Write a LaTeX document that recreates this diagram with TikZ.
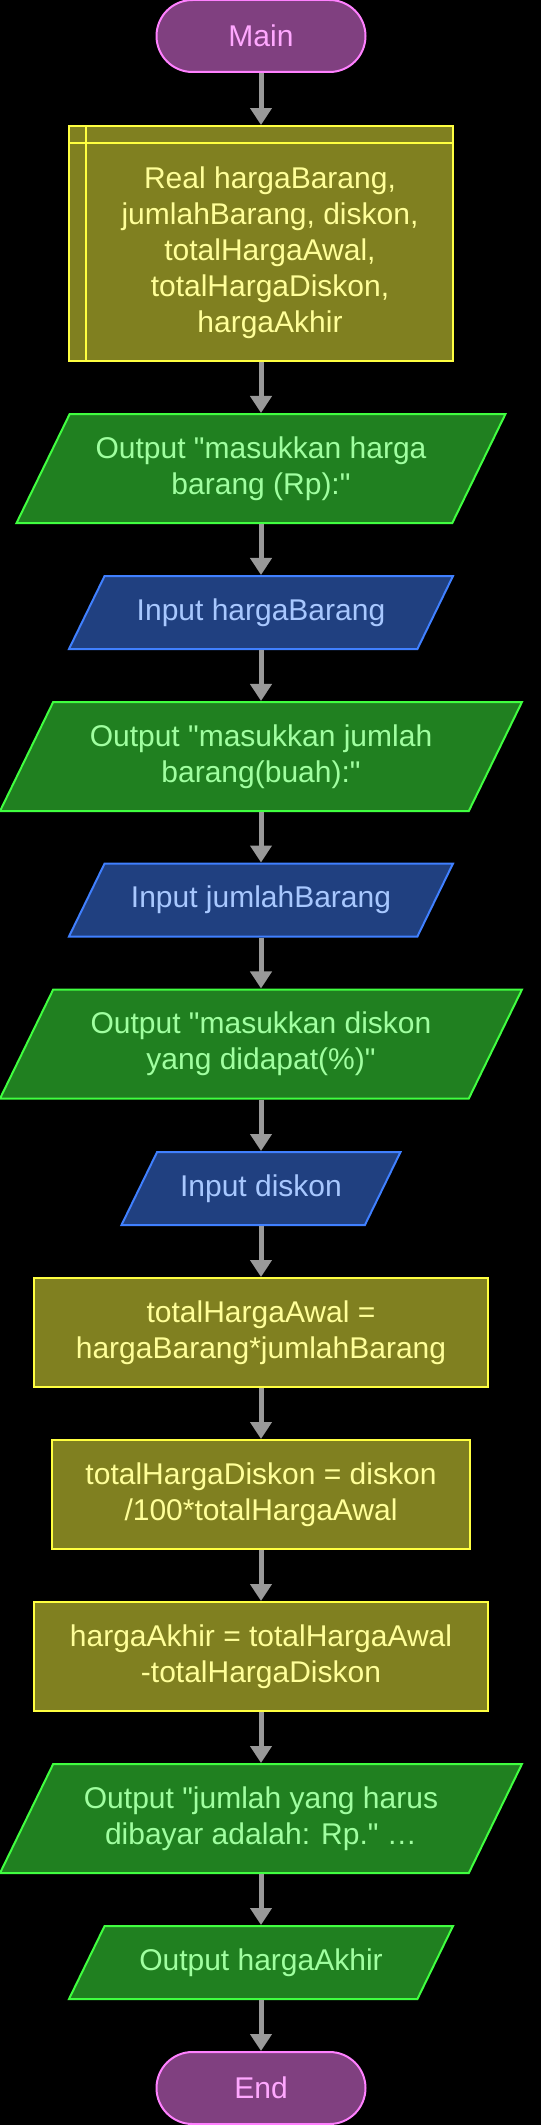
\documentclass[tikz,border=0pt]{standalone}
\usepackage{fontspec}
\setmainfont{Liberation Sans}[Ligatures=TeXOff]
\usetikzlibrary{shapes.geometric,arrows.meta}

\definecolor{termfill}{HTML}{804080}
\definecolor{termline}{HTML}{FF80FF}
\definecolor{termtext}{HTML}{FFA8FF}
\definecolor{procfill}{HTML}{808020}
\definecolor{procline}{HTML}{FFFF40}
\definecolor{proctext}{HTML}{FFFF99}
\definecolor{outfill}{HTML}{208020}
\definecolor{outline}{HTML}{40FF40}
\definecolor{outtext}{HTML}{A0FFA0}
\definecolor{infill}{HTML}{204080}
\definecolor{inline}{HTML}{4080FF}
\definecolor{intext}{HTML}{A8C8FF}
\definecolor{flowgray}{HTML}{999999}

\tikzset{
  every node/.style={font=\fontsize{30}{36}\selectfont, align=center, line width=2pt, inner sep=0pt},
  term/.style={rectangle, rounded corners=36pt, minimum width=209pt, minimum height=72pt, draw=termline, fill=termfill, text=termtext},
  decl/.style={rectangle, minimum width=384pt, minimum height=235pt, draw=procline, fill=procfill},
  proc/.style={rectangle, minimum width=#1, minimum height=109pt, draw=procline, fill=procfill, text=proctext},
  % parallelogram: body from inner sep, slant from the height
  para/.style 2 args={trapezium, trapezium left angle=64, trapezium right angle=116, inner xsep=#1, inner ysep=#2},
  outp/.style 2 args={para={#1}{#2}, draw=outline, fill=outfill},
  inp/.style 2 args={para={#1}{#2}, draw=inline, fill=infill},
  outlbl/.style={text=outtext},
  inlbl/.style={text=intext},
  flow/.style={line width=5pt, draw=flowgray, -{Triangle[width=21pt,length=17pt]}}
}

\begin{document}
\begin{tikzpicture}[x=1pt,y=-1pt]
    \fill[black] (0,0) rectangle (541,2125);
    \useasboundingbox (0,0) rectangle (541,2125);

    \node [term] (start) at(261,36) {Main};
    \node [decl] (decl) at(261,243.5) {};
    \draw [line width=2pt,procline] ([yshift=-18pt]decl.north west)--([yshift=-18pt]decl.north east);
    \draw [line width=2pt,procline] ([xshift=18pt]decl.north west)--([xshift=18pt]decl.south west);
    \node [text=proctext] (decltxt) at(270,252.5) {Real hargaBarang,\\jumlahBarang, diskon,\\totalHargaAwal,\\totalHargaDiskon,\\hargaAkhir};

    \node [outp={191.3pt}{54.5pt}, label={[outlbl]center:{Output "masukkan harga\\barang (Rp):"}}] (out1) at(261,468.5) {};
    \node [inp={156.4pt}{36.5pt}, label={[inlbl]center:{Input hargaBarang}}] (in1) at(261,612.5) {};
    \node [outp={207.8pt}{54.5pt}, label={[outlbl]center:{Output "masukkan jumlah\\barang(buah):"}}] (out2) at(261,756.5) {};
    \node [inp={156.4pt}{36.5pt}, label={[inlbl]center:{Input jumlahBarang}}] (in2) at(261,900) {};
    \node [outp={207.8pt}{54.5pt}, label={[outlbl]center:{Output "masukkan diskon\\yang didapat(\%)"}}] (out3) at(261,1044) {};
    \node [inp={103.9pt}{36.5pt}, label={[inlbl]center:{Input diskon}}] (in3) at(261,1188.5) {};
    \node [proc=454pt] (calc1) at(261,1332.5) {totalHargaAwal =\\hargaBarang*jumlahBarang};
    \node [proc=418pt] (calc2) at(261,1494.5) {totalHargaDiskon = diskon\\/100*totalHargaAwal};
    \node [proc=454pt] (calc3) at(261,1656.5) {hargaAkhir = totalHargaAwal\\-totalHargaDiskon};
    \node [outp={207.8pt}{54.5pt}, label={[outlbl]center:{Output "jumlah yang harus\\dibayar adalah: Rp." …}}] (out4) at(261,1818.5) {};
    \node [outp={156.4pt}{36.5pt}, label={[outlbl]center:{Output hargaAkhir}}] (out5) at(261,1962.5) {};
    \node [term] (stop) at(261,2088) {End};

    \draw [flow] (start)--(decl);
    \draw [flow] (decl)--(out1);
    \draw [flow] (out1)--(in1);
    \draw [flow] (in1)--(out2);
    \draw [flow] (out2)--(in2);
    \draw [flow] (in2)--(out3);
    \draw [flow] (out3)--(in3);
    \draw [flow] (in3)--(calc1);
    \draw [flow] (calc1)--(calc2);
    \draw [flow] (calc2)--(calc3);
    \draw [flow] (calc3)--(out4);
    \draw [flow] (out4)--(out5);
    \draw [flow] (out5)--(stop);
\end{tikzpicture}
\end{document}
